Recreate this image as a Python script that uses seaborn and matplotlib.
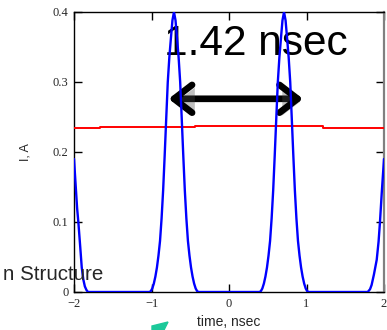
import numpy as np
import pandas as pd
import matplotlib
matplotlib.use("Agg")
import matplotlib.pyplot as plt
import matplotlib.patheffects as pe
from matplotlib.patches import Polygon
import seaborn as sns

# pulse current (blue)
time_ns = [-2.00, -1.98, -1.96, -1.944, -1.92, -1.90, -1.88, -1.86, -1.84, -1.82,
           -1.03, -1.01, -0.99, -0.97, -0.95, -0.93, -0.91, -0.89, -0.87, -0.85,
           -0.83, -0.81, -0.79, -0.77, -0.75, -0.73, -0.71, -0.69, -0.67, -0.65,
           -0.63, -0.61, -0.59, -0.57, -0.55, -0.53, -0.51, -0.49, -0.47, -0.45,
           -0.43, -0.41, -0.39,
           0.39, 0.41, 0.43, 0.45, 0.47, 0.49, 0.51, 0.53, 0.55, 0.57,
           0.59, 0.61, 0.63, 0.65, 0.67, 0.69, 0.71, 0.73, 0.75, 0.77,
           0.79, 0.81, 0.83, 0.85, 0.87, 0.89, 0.91, 0.93, 0.95, 0.97,
           0.99, 1.01, 1.03,
           1.79, 1.82, 1.84, 1.87, 1.906, 1.93, 1.948, 1.97, 2.00]
current_A = [0.190, 0.155, 0.120, 0.100, 0.065, 0.035, 0.018, 0.008, 0.003, 0.000,
             0.000, 0.001, 0.005, 0.012, 0.022, 0.035, 0.052, 0.073, 0.105, 0.145,
             0.195, 0.248, 0.300, 0.335, 0.362, 0.388, 0.400, 0.388, 0.362, 0.335,
             0.300, 0.248, 0.195, 0.145, 0.105, 0.073, 0.052, 0.035, 0.022, 0.012,
             0.005, 0.001, 0.000,
             0.000, 0.001, 0.005, 0.012, 0.022, 0.035, 0.052, 0.073, 0.105, 0.145,
             0.195, 0.248, 0.300, 0.335, 0.362, 0.388, 0.400, 0.388, 0.362, 0.335,
             0.300, 0.248, 0.195, 0.145, 0.105, 0.073, 0.052, 0.035, 0.022, 0.012,
             0.005, 0.001, 0.000,
             0.000, 0.004, 0.010, 0.025, 0.046, 0.072, 0.100, 0.140, 0.190]

# average current (red), small steps
avg_time_ns = [-2.00, -1.66, -1.21, -0.44, 0.43, 1.21, 1.65, 2.00]
avg_current_A = [0.2340, 0.2352, 0.2362, 0.2378, 0.2366, 0.2350, 0.2342, 0.2342]

x_ticks = [-2, -1, 0, 1, 2]
x_tick_labels = ["\u22122", "\u22121", "0", "1", "2"]
y_ticks = [0, 0.1, 0.2, 0.3, 0.4]
y_tick_labels = ["0", "0.1", "0.2", "0.3", "0.4"]

pulse = pd.DataFrame({"time": time_ns, "I": current_A})
avg = pd.DataFrame({"time": avg_time_ns, "I": avg_current_A})

sns.set_style("ticks")
plt.rcParams["font.family"] = ["Liberation Sans", "DejaVu Sans"]

W, H = 387, 330
fig = plt.figure(figsize=(W / 100, H / 100), dpi=100)
ax = fig.add_axes([74 / W, (H - 292) / H, 310 / W, 280 / H])

sns.lineplot(data=avg, x="time", y="I", ax=ax, color="#ff0000", lw=1.4,
             drawstyle="steps-post", estimator=None, zorder=4)
sns.lineplot(data=pulse, x="time", y="I", ax=ax, color="#0000ff", lw=1.7,
             estimator=None, sort=False, zorder=5)

ax.set_xlim(-2, 2)
ax.set_ylim(0, 0.4)
ax.set_xticks(x_ticks)
ax.set_xticklabels(x_tick_labels, family="Liberation Serif", fontsize=9)
ax.set_yticks(y_ticks)
ax.set_yticklabels(y_tick_labels, family="Liberation Serif", fontsize=9)
ax.tick_params(direction="in", length=6, width=1, color="black",
               top=True, right=True)
ax.tick_params(axis="x", pad=4.5)
ax.tick_params(axis="y", pad=4)

for side in ["left", "bottom", "top"]:
    ax.spines[side].set_color("black")
    ax.spines[side].set_linewidth(1)
ax.spines["right"].set_color("#808080")
ax.spines["right"].set_linewidth(1.6)

ax.set_xlabel("time, nsec", fontsize=10)
ax.xaxis.set_label_coords(0.5, -(322 - 292) / 280)
ax.xaxis.label.set_va("center")
ax.set_ylabel("I, A", fontsize=9)
ax.yaxis.set_label_coords(-(74 - 25) / 310, 0.5)
ax.yaxis.label.set_va("center")

# period annotation
ax.annotate("", xy=(0.955, 0.276), xytext=(-0.78, 0.276),
            arrowprops=dict(arrowstyle="<->, head_length=0.65, head_width=0.5",
                            lw=4.8, color="black", mutation_scale=20,
                            shrinkA=0, shrinkB=0,
                            path_effects=[pe.withSimplePatchShadow(offset=(2, -2), alpha=0.35)]),
            zorder=3)
ax.text(-0.84, 0.3386, "1.42 nsec", fontsize=30.5, ha="left", va="baseline",
        color="black", zorder=3)

# leftovers from the slide
fig.text(103 / W, 50 / H, "n Structure", fontsize=14.8, ha="right", va="baseline")
teal = [(152, 330), (152, 326), (168, 322), (164, 330)]
fig.patches.append(Polygon([(x / W, 1 - y / H) for x, y in teal], closed=True,
                           transform=fig.transFigure, color="#1cc99a"))

fig.savefig("out.png", dpi=100)
